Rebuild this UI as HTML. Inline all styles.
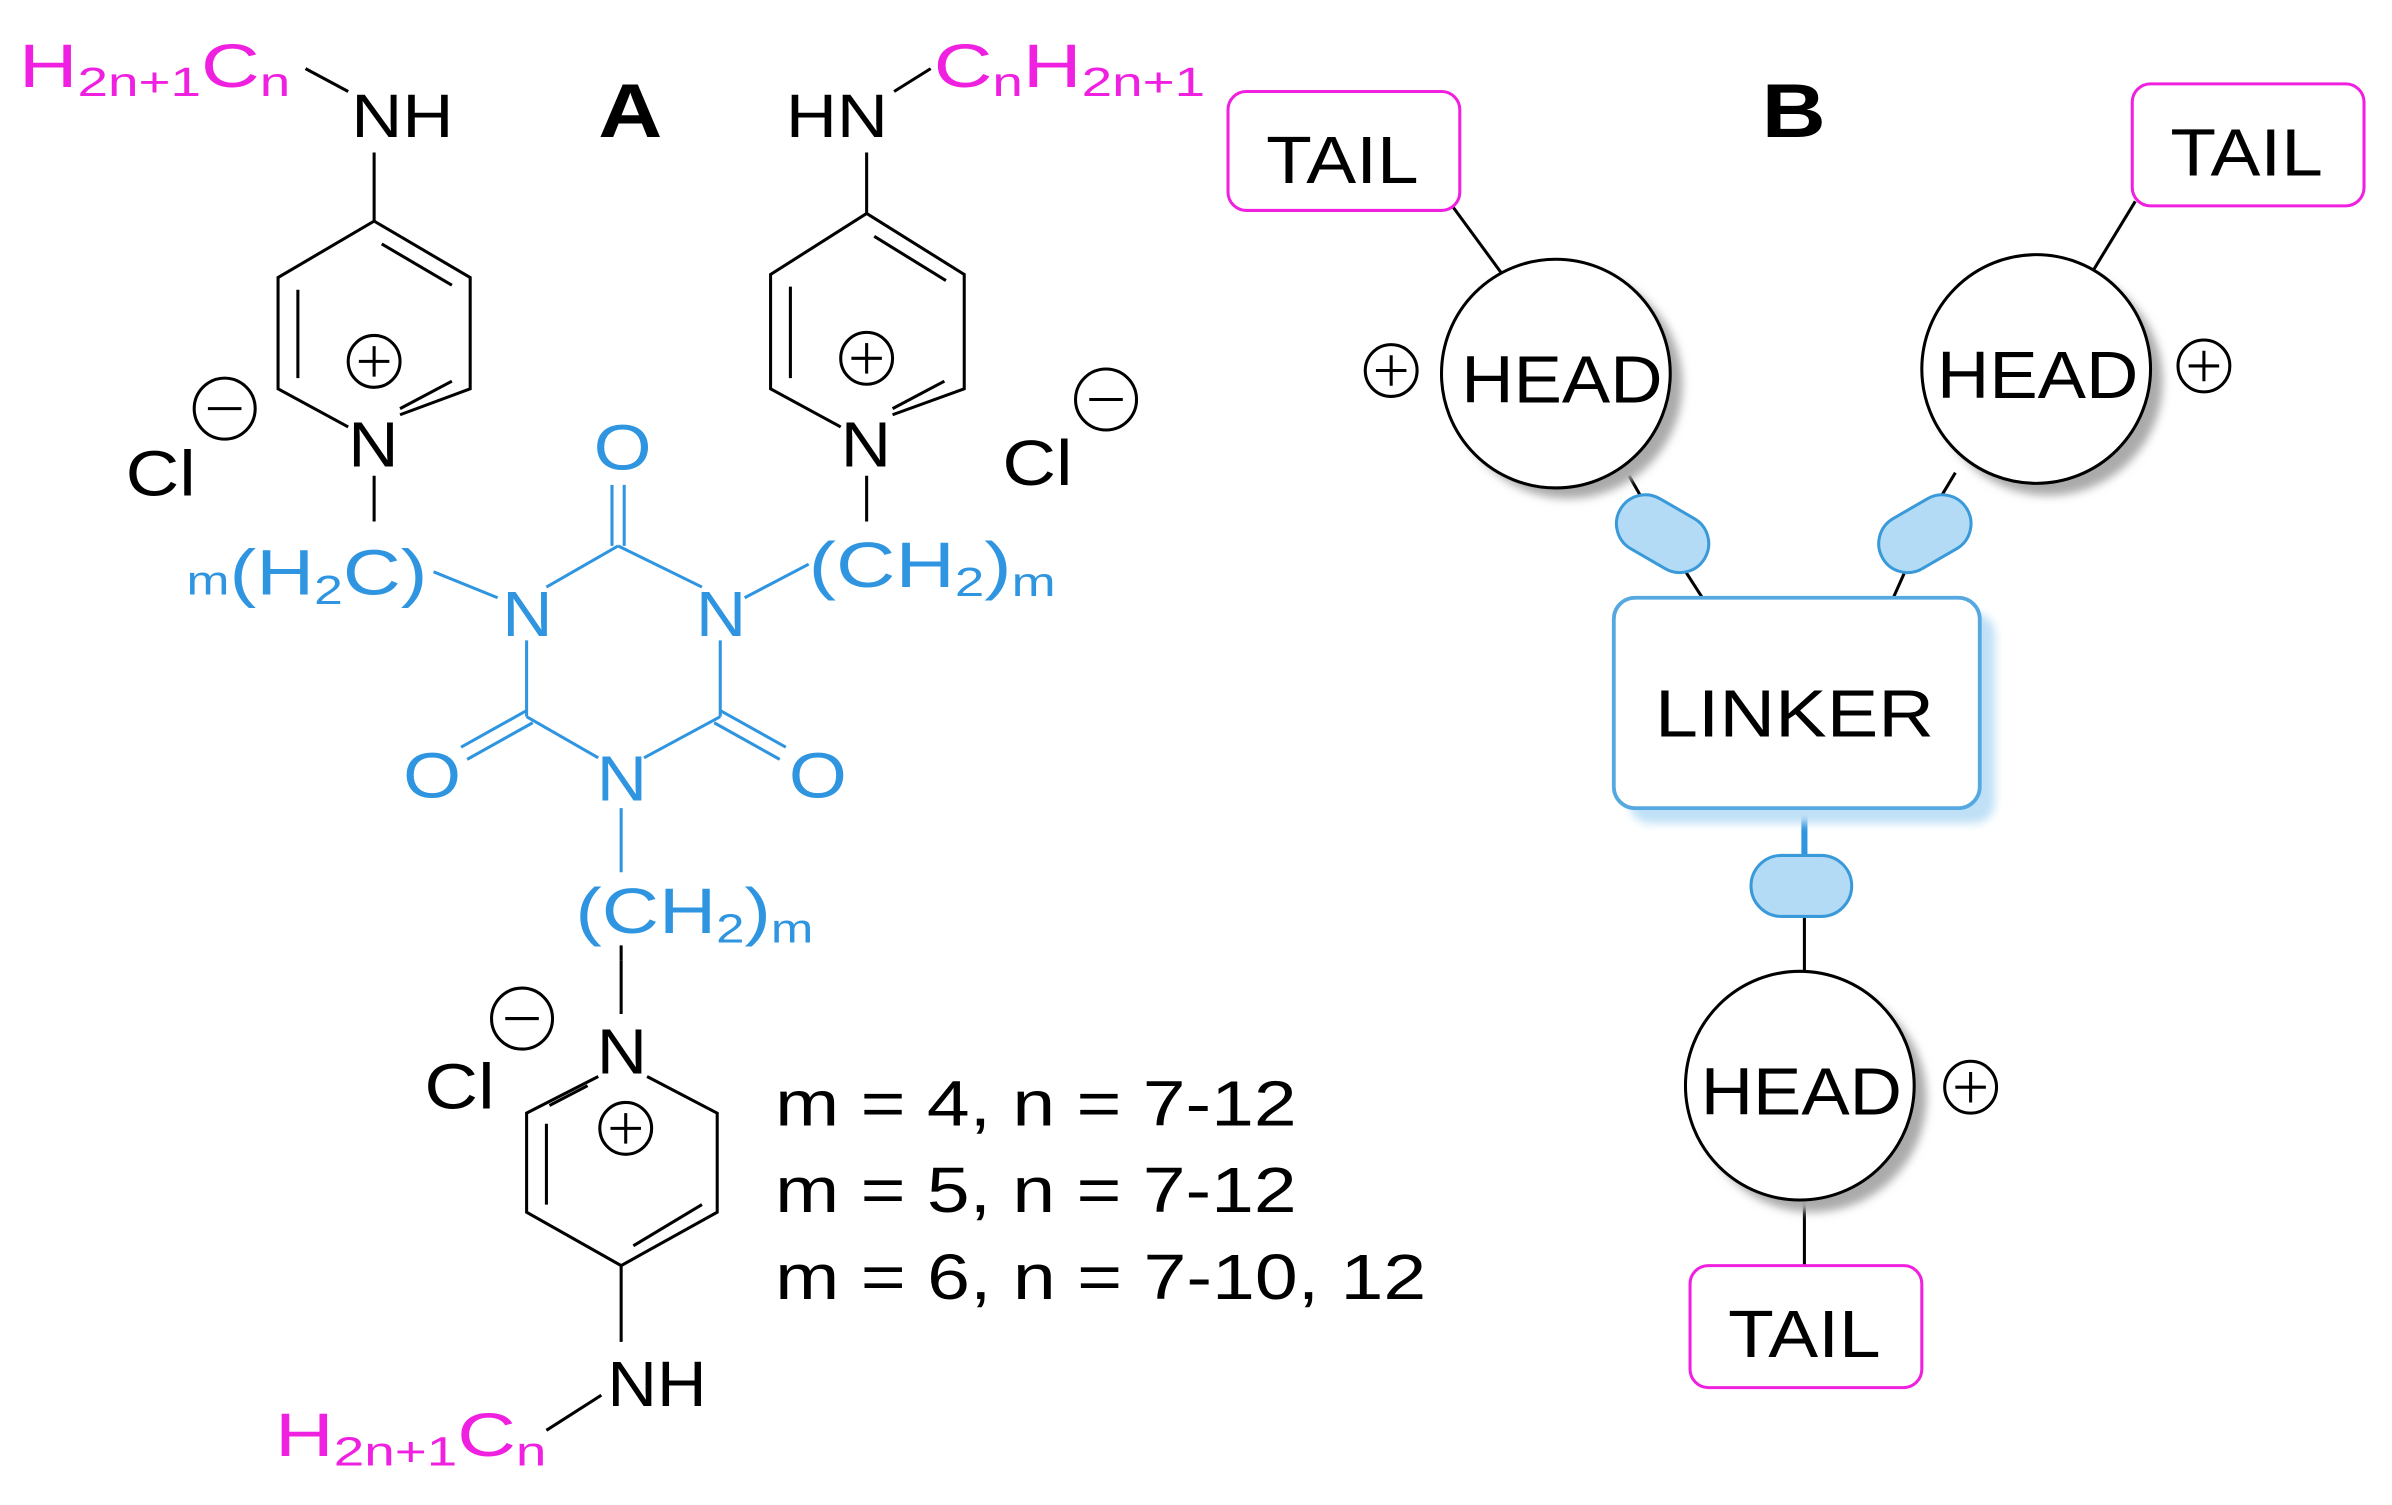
<!DOCTYPE html>
<html><head><meta charset="utf-8"><style>
html,body{margin:0;padding:0;background:#fff;}
svg{display:block;}
text{font-family:"Liberation Sans",sans-serif;}
</style></head><body>
<svg width="2392" height="1505" viewBox="0 0 1568 987" xmlns="http://www.w3.org/2000/svg">
<defs>
<filter id="sh" x="-30%" y="-30%" width="160%" height="160%"><feGaussianBlur stdDeviation="3"/></filter>
</defs>
<rect width="1568" height="987" fill="#fff"/>
<!-- ===== A ===== -->
<g font-size="40" fill="#000">
<text x="12" y="57" fill="#f020e0" textLength="178" lengthAdjust="spacingAndGlyphs">H<tspan font-size="27" dy="6">2n+1</tspan><tspan dy="-6">C</tspan><tspan font-size="27" dy="6">n</tspan></text>
<line x1="200" y1="45" x2="228" y2="60" stroke="#000" stroke-width="2"/>
<text x="230" y="90" textLength="67" lengthAdjust="spacingAndGlyphs">NH</text>
<text x="392" y="90" font-weight="bold" font-size="50" textLength="42" lengthAdjust="spacingAndGlyphs">A</text>
<text x="515" y="90" textLength="67" lengthAdjust="spacingAndGlyphs">HN</text>
<line x1="586" y1="60" x2="610" y2="45" stroke="#000" stroke-width="2"/>
<text x="612" y="57" fill="#f020e0" textLength="178" lengthAdjust="spacingAndGlyphs">C<tspan font-size="27" dy="6">n</tspan><tspan dy="-6">H</tspan><tspan font-size="27" dy="6">2n+1</tspan></text>
</g>
<g stroke="#000" stroke-width="2" fill="none">
<!-- left pyridine -->
<line x1="245" y1="100" x2="245" y2="145"/>
<polyline points="262,272 308,255 308,182 245,145 182,182 182,255 228,280"/>
<line x1="195" y1="190" x2="195" y2="248"/>
<line x1="250" y1="160" x2="296" y2="187"/>
<line x1="296" y1="250" x2="262" y2="268"/>
<line x1="245" y1="312" x2="245" y2="342"/>
<circle cx="245" cy="237" r="17"/><line x1="235" y1="237" x2="255" y2="237"/><line x1="245" y1="227" x2="245" y2="247"/>
<circle cx="147" cy="268" r="20"/><line x1="136" y1="268" x2="158" y2="268"/>
<!-- right pyridine -->
<line x1="568" y1="100" x2="568" y2="140"/>
<polyline points="585,272 632,255 632,180 568,140 505,180 505,255 551,280"/>
<line x1="518" y1="188" x2="518" y2="248"/>
<line x1="573" y1="155" x2="620" y2="184"/>
<line x1="619" y1="250" x2="585" y2="268"/>
<line x1="568" y1="312" x2="568" y2="342"/>
<circle cx="568" cy="235" r="17"/><line x1="558" y1="235" x2="578" y2="235"/><line x1="568" y1="225" x2="568" y2="245"/>
<circle cx="725" cy="262" r="20"/><line x1="714" y1="262" x2="736" y2="262"/>
<!-- bottom pyridine -->
<line x1="407" y1="630" x2="407" y2="665"/>
<polyline points="392,706 345,730 345,795 407,830 470,795 470,730 424,706"/>
<line x1="358" y1="737" x2="358" y2="790"/>
<line x1="360" y1="725" x2="385" y2="712"/>
<line x1="415" y1="817" x2="460" y2="790"/>
<line x1="407" y1="830" x2="407" y2="880"/>
<line x1="358" y1="938" x2="394" y2="915"/>
<circle cx="410" cy="740" r="17"/><line x1="400" y1="740" x2="420" y2="740"/><line x1="410" y1="730" x2="410" y2="750"/>
<circle cx="342" cy="668" r="20"/><line x1="331" y1="668" x2="353" y2="668"/>
</g>
<g font-size="42" fill="#000">
<text x="82" y="325" textLength="46" lengthAdjust="spacingAndGlyphs">Cl</text>
<text x="228" y="306" textLength="33" lengthAdjust="spacingAndGlyphs">N</text>
<text x="657" y="318" textLength="46" lengthAdjust="spacingAndGlyphs">Cl</text>
<text x="551" y="306" textLength="33" lengthAdjust="spacingAndGlyphs">N</text>
<text x="278" y="727" textLength="46" lengthAdjust="spacingAndGlyphs">Cl</text>
<text x="391" y="704" textLength="33" lengthAdjust="spacingAndGlyphs">N</text>
<text x="398" y="922" textLength="65" lengthAdjust="spacingAndGlyphs">NH</text>
<text x="508" y="738" textLength="342" lengthAdjust="spacingAndGlyphs">m = 4, n = 7-12</text>
<text x="508" y="795" textLength="342" lengthAdjust="spacingAndGlyphs">m = 5, n = 7-12</text>
<text x="508" y="852" textLength="427" lengthAdjust="spacingAndGlyphs">m = 6, n = 7-10, 12</text>
</g>
<text x="180" y="955" font-size="40" fill="#f020e0" textLength="178" lengthAdjust="spacingAndGlyphs">H<tspan font-size="27" dy="6">2n+1</tspan><tspan dy="-6">C</tspan><tspan font-size="27" dy="6">n</tspan></text>
<!-- triazine blue -->
<g stroke="#2f95e0" stroke-width="2" fill="none">
<line x1="284" y1="375" x2="326" y2="392"/>
<line x1="488" y1="392" x2="530" y2="370"/>
<line x1="358" y1="385" x2="405" y2="358"/>
<line x1="405" y1="358" x2="460" y2="385"/>
<line x1="401" y1="318" x2="401" y2="358"/>
<line x1="409" y1="318" x2="409" y2="358"/>
<line x1="345" y1="420" x2="345" y2="470"/>
<line x1="472" y1="420" x2="472" y2="470"/>
<line x1="345" y1="470" x2="392" y2="497"/>
<line x1="472" y1="470" x2="422" y2="497"/>
<line x1="345" y1="466" x2="302" y2="490"/><line x1="349" y1="474" x2="306" y2="498"/>
<line x1="472" y1="466" x2="515" y2="490"/><line x1="468" y1="474" x2="511" y2="498"/>
<line x1="407" y1="530" x2="407" y2="572"/>
<line x1="407" y1="620" x2="407" y2="630" stroke="#000"/>
</g>
<g font-size="42" fill="#2f95e0">
<text x="389" y="308" textLength="38" lengthAdjust="spacingAndGlyphs">O</text>
<text x="329" y="417" textLength="33" lengthAdjust="spacingAndGlyphs">N</text>
<text x="456" y="417" textLength="33" lengthAdjust="spacingAndGlyphs">N</text>
<text x="391" y="525" textLength="33" lengthAdjust="spacingAndGlyphs">N</text>
<text x="264" y="523" textLength="38" lengthAdjust="spacingAndGlyphs">O</text>
<text x="517" y="523" textLength="38" lengthAdjust="spacingAndGlyphs">O</text>
<text x="122" y="390" textLength="158" lengthAdjust="spacingAndGlyphs"><tspan font-size="27">m</tspan>(H<tspan font-size="27" dy="6">2</tspan><tspan dy="-6">C)</tspan></text>
<text x="530" y="385" textLength="162" lengthAdjust="spacingAndGlyphs">(CH<tspan font-size="27" dy="6">2</tspan><tspan dy="-6">)</tspan><tspan font-size="27" dy="6">m</tspan></text>
<text x="377" y="612" textLength="156" lengthAdjust="spacingAndGlyphs">(CH<tspan font-size="27" dy="6">2</tspan><tspan dy="-6">)</tspan><tspan font-size="27" dy="6">m</tspan></text>
</g>
<!-- ===== B ===== -->
<text x="1155" y="90" font-size="50" font-weight="bold" textLength="42" lengthAdjust="spacingAndGlyphs">B</text>
<g stroke="#000" stroke-width="2">
<line x1="952" y1="135" x2="985" y2="180"/>
<line x1="1400" y1="132" x2="1372" y2="178"/>
<line x1="1068" y1="312" x2="1080" y2="333"/>
<line x1="1100" y1="367" x2="1118" y2="395"/>
<line x1="1282" y1="310" x2="1270" y2="330"/>
<line x1="1252" y1="368" x2="1240" y2="395"/>
<line x1="1183" y1="600" x2="1183" y2="640"/>
<line x1="1183" y1="786" x2="1183" y2="832"/>
</g>
<line x1="1183" y1="530" x2="1183" y2="562" stroke="#2f95e0" stroke-width="4"/>
<g fill="#aaa" filter="url(#sh)">
<circle cx="1028" cy="252" r="75"/>
<circle cx="1343" cy="250" r="75"/>
<circle cx="1188" cy="720" r="75"/>
</g>
<rect x="1068" y="402" width="240" height="138" rx="14" fill="#bfe0f6" filter="url(#sh)"/>
<g fill="#fff" stroke="#000" stroke-width="2">
<circle cx="1020" cy="245" r="75"/>
<circle cx="1335" cy="242" r="75"/>
<circle cx="1180" cy="712" r="75"/>
</g>
<rect x="1058" y="392" width="240" height="138" rx="14" fill="#fff" stroke="#55a8e0" stroke-width="2.5"/>
<g fill="#b3dbf5" stroke="#3a9ad9" stroke-width="2">
<rect x="-32" y="-19" width="64" height="38" rx="19" transform="translate(1090,350) rotate(30)"/>
<rect x="-32" y="-19" width="64" height="38" rx="19" transform="translate(1262,350) rotate(-30)"/>
<rect x="1148" y="561" width="66" height="40" rx="20"/>
</g>
<g fill="#fff" stroke="#f020e0" stroke-width="2">
<rect x="805" y="60" width="152" height="78" rx="12"/>
<rect x="1398" y="55" width="152" height="80" rx="12"/>
<rect x="1108" y="830" width="152" height="80" rx="12"/>
</g>
<g font-size="44" fill="#000">
<text x="830" y="120" textLength="100" lengthAdjust="spacingAndGlyphs">TAIL</text>
<text x="1423" y="115" textLength="100" lengthAdjust="spacingAndGlyphs">TAIL</text>
<text x="1133" y="890" textLength="100" lengthAdjust="spacingAndGlyphs">TAIL</text>
<text x="958" y="264" textLength="132" lengthAdjust="spacingAndGlyphs">HEAD</text>
<text x="1270" y="261" textLength="132" lengthAdjust="spacingAndGlyphs">HEAD</text>
<text x="1115" y="731" textLength="132" lengthAdjust="spacingAndGlyphs">HEAD</text>
<text x="1085" y="483" textLength="183" lengthAdjust="spacingAndGlyphs">LINKER</text>
</g>
<g stroke="#000" stroke-width="2" fill="#fff">
<circle cx="912" cy="243" r="17"/><path d="M902 243h20M912 233v20"/>
<circle cx="1445" cy="240" r="17"/><path d="M1435 240h20M1445 230v20"/>
<circle cx="1292" cy="713" r="17"/><path d="M1282 713h20M1292 703v20"/>
</g>
</svg>
</body></html>
